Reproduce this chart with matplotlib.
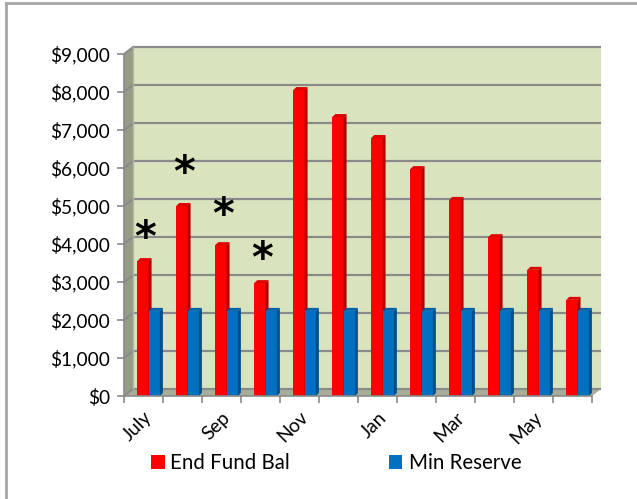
import matplotlib.pyplot as plt
from matplotlib.patches import Polygon, Rectangle
from matplotlib.lines import Line2D

plt.rcParams['font.family'] = ['Lato', 'DejaVu Sans']

months = ['July', 'Aug', 'Sep', 'Oct', 'Nov', 'Dec',
          'Jan', 'Feb', 'Mar', 'Apr', 'May', 'Jun']
end_fund_bal = [3550, 5000, 3970, 2970, 8050, 7340,
                6790, 5970, 5160, 4180, 3320, 2530]
min_reserve = [2240] * 12
star_y = [4130, 5850, 4740, 3570]   # asterisks over first four months
y_ticks = [0, 1000, 2000, 3000, 4000, 5000, 6000, 7000, 8000, 9000]

W, H = 637, 499
fig = plt.figure(figsize=(W / 100, H / 100), dpi=100)
fig.patch.set_facecolor('white')

# outer frame (left + top only, the rest is cropped)
fig.add_artist(Line2D([6 / W, 6 / W], [0, 1 - 3 / H], transform=fig.transFigure,
                      color='#A6A6A6', lw=2))
fig.add_artist(Line2D([6 / W, 1], [1 - 3 / H, 1 - 3 / H], transform=fig.transFigure,
                      color='#A6A6A6', lw=2))

x0, x1, y_bot, y_top = 124, 592, 396, 54
ax = fig.add_axes([x0 / W, 1 - y_bot / H, (x1 - x0) / W, (y_bot - y_top) / H])
ax.set_xlim(0, 12)
ax.set_ylim(0, 9000)
ax.set_facecolor('none')
for s in ax.spines.values():
    s.set_visible(False)

# depth offset of the 3D box (in data units)
dx = 9 / 39.0
dy = 7 / 38.0 * 1000

wall = '#D9E4BF'
# back wall
ax.add_patch(Rectangle((dx, dy), 12, 9000, facecolor=wall, edgecolor='none',
                       zorder=0, clip_on=False))
# left side wall
ax.add_patch(Polygon([(0, 0), (dx, dy), (dx, 9000 + dy), (0, 9000)],
                     closed=True, facecolor='#979C84', edgecolor='none',
                     zorder=0.5, clip_on=False))
# floor
ax.add_patch(Polygon([(0, 0), (12, 0), (12 + dx, dy), (dx, dy)], closed=True,
                     facecolor='#A9AD98', edgecolor='none', zorder=0.5, clip_on=False))

# gridlines on back wall and side wall
for v in y_ticks:
    ax.plot([dx, 12 + dx], [v + dy, v + dy], color='#8A8A8A', lw=1.6,
            zorder=1, clip_on=False, solid_capstyle='butt')
    ax.plot([0, dx], [v, v + dy], color='#8A8A8A', lw=1.4, zorder=1, clip_on=False)
ax.plot([dx, dx], [dy, 9000 + dy], color='#B4B8A4', lw=1, zorder=1, clip_on=False)

# bars with a little 3D look
bw = 0.29
off_r = 0.34
off_b = off_r + bw
sx = 3 / 39.0
sy = 3 / 38.0 * 1000
xs = list(range(12))


def draw_bars(offset, vals, face, sidec, topc):
    lefts = [x + offset for x in xs]
    ax.bar(lefts, vals, width=bw, align='edge', color=face, zorder=3,
           linewidth=0)
    for l, v in zip(lefts, vals):
        ax.add_patch(Polygon([(l + bw, 0), (l + bw + sx, sy), (l + bw + sx, v + sy),
                              (l + bw, v)], closed=True, facecolor=sidec,
                             edgecolor='none', zorder=3, clip_on=False))
        ax.add_patch(Polygon([(l, v), (l + bw, v), (l + bw + sx, v + sy), (l + sx, v + sy)],
                             closed=True, facecolor=topc, edgecolor='none',
                             zorder=3, clip_on=False))


draw_bars(off_r, end_fund_bal, '#FF0000', '#B00000', '#E00000')
draw_bars(off_b, min_reserve, '#0070C0', '#004F8A', '#0060A8')

# asterisks
for i, v in enumerate(star_y):
    ax.text(i + 0.55, v, '*', fontsize=30, ha='center', va='center',
            color='black', zorder=5, family='DejaVu Sans', fontweight='bold')

# axes lines and ticks
ax.plot([0, 0], [0, 9000], color='#8A8A8A', lw=1.2, zorder=4, clip_on=False)
ax.plot([0, 12], [0, 0], color='#8A8A8A', lw=1.2, zorder=4, clip_on=False)
ax.set_yticks(y_ticks)
ax.set_yticklabels(['${:,}'.format(v) for v in y_ticks], fontsize=13.8)
ax.set_xticks([i for i in range(13)])
ax.set_xticklabels([])
ax.tick_params(axis='y', length=5, width=1.2, color='#8A8A8A', pad=5)
ax.tick_params(axis='x', length=5, width=1.2, color='#8A8A8A')

for i in range(0, 12, 2):
    ax.text(i + 0.5, -330, months[i], rotation=45, ha='right', va='top',
            rotation_mode='anchor', fontsize=13.8, transform=ax.transData)

# legend
fig.add_artist(Rectangle((151 / W, 1 - 469 / H), 14 / W, 14 / H,
                         transform=fig.transFigure, facecolor='#FF0000', edgecolor='none'))
fig.text(170 / W, 1 - 463 / H, 'End Fund Bal', fontsize=14.8, va='center', ha='left')
fig.add_artist(Rectangle((389 / W, 1 - 469 / H), 13 / W, 14 / H,
                         transform=fig.transFigure, facecolor='#0070C0', edgecolor='none'))
fig.text(409 / W, 1 - 463 / H, 'Min Reserve', fontsize=14.8, va='center', ha='left')

fig.savefig('out.png', dpi=100)
